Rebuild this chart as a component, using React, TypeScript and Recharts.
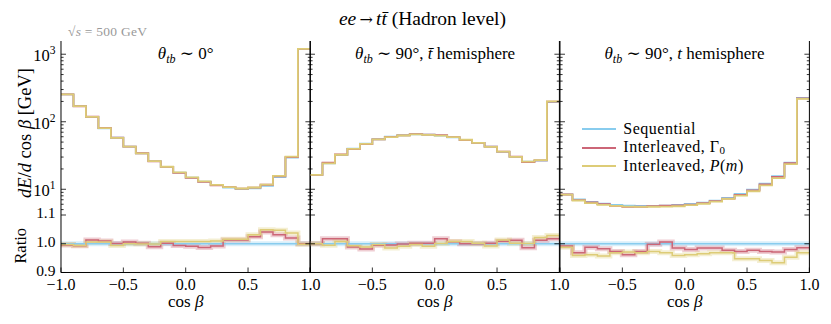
import React from 'react';
import { LineChart, Line, XAxis, YAxis, Legend } from 'recharts';

// ---------------- data ----------------
const binLeftEdges = [-1.0, -0.9, -0.8, -0.7, -0.6, -0.5, -0.4, -0.3, -0.2, -0.1, 0.0, 0.1, 0.2, 0.3, 0.4, 0.5, 0.6, 0.7, 0.8, 0.9];
const upperEdge = 1.0;

const seriesNames = ['Sequential', 'Interleaved, Γ0', 'Interleaved, P(m)'];

// Sequential dE/dcos(beta) [GeV]
const seqPanel1 = [255, 171, 117, 80, 58, 42.7, 34.1, 26.2, 21.4, 17.6, 14.9, 13.0, 11.5, 10.6, 10.1, 10.3, 11.2, 15.1, 29.4, 1200];
const seqPanel2 = [16.3, 24.3, 32.2, 39.9, 47.4, 55.1, 60.1, 63.1, 65.3, 64.5, 62.2, 58.9, 53.7, 48.5, 42.7, 35.7, 30.1, 25.6, 26.5, 195];
const seqPanel3 = [8.43, 7.11, 6.49, 6.12, 5.85, 5.71, 5.66, 5.66, 5.71, 5.85, 6.05, 6.33, 6.78, 7.43, 8.51, 9.87, 12.1, 15.7, 24.8, 225];

// Ratio to Sequential
const ratioG0Panel1 = [0.996, 0.993, 1.013, 1.010, 1.001, 1.006, 1.002, 0.990, 1.002, 0.994, 0.991, 0.987, 0.992, 1.013, 1.013, 1.024, 1.041, 1.031, 1.020, 1.000];
const ratioPmPanel1 = [0.997, 0.994, 1.006, 1.006, 0.994, 1.000, 0.999, 0.999, 1.008, 1.008, 1.008, 1.008, 1.010, 1.016, 1.016, 1.031, 1.049, 1.047, 1.037, 0.998];
const ratioG0Panel2 = [1.000, 1.017, 1.017, 0.989, 0.982, 0.995, 0.996, 0.999, 1.002, 1.002, 1.017, 1.007, 1.000, 1.000, 1.002, 1.009, 1.012, 0.986, 1.012, 1.017];
const ratioPmPanel2 = [1.000, 0.995, 1.008, 0.993, 0.989, 0.997, 0.985, 0.991, 0.997, 0.991, 1.001, 1.008, 1.008, 1.002, 0.992, 1.013, 1.002, 1.001, 1.022, 1.029];
const ratioG0Panel3 = [0.992, 0.969, 0.988, 0.983, 0.973, 0.962, 0.973, 0.998, 1.006, 0.985, 0.980, 0.985, 0.985, 0.977, 0.973, 0.977, 0.973, 0.971, 0.980, 0.986];
const ratioPmPanel3 = [0.988, 0.959, 0.962, 0.957, 0.969, 0.971, 0.969, 0.973, 0.969, 0.959, 0.962, 0.965, 0.969, 0.969, 0.948, 0.948, 0.942, 0.934, 0.953, 0.969];

const xTicks = [-1.0, -0.5, 0.0, 0.5, 1.0];
const xInnerTicks = [-0.5, 0.0, 0.5];
const logTicks = [5, 6, 7, 8, 9, 10, 20, 30, 40, 50, 60, 70, 80, 90, 100, 200, 300, 400, 500, 600, 700, 800, 900, 1000];
const ratioTicks = [0.9, 1.0, 1.1];
const logDomain = [4.16, 1570];
const ratioDomain = [0.9, 1.1];

// ---------------- styling ----------------
const FONT = "'Liberation Serif', 'DejaVu Serif', serif";
const COLORS = ['#88CCEE', '#CC6677', '#DDCC77'];
const KEYS = ['seq', 'g0', 'pm'];
const PW = 249.4;
const PANEL_LEFT = [61, 61 + PW, 61 + 2 * PW];
const TOP_Y0 = 41;
const TOP_Y1 = 215;
const RAT_Y1 = 272.5;
const FS = 16.5;

function buildHist(seq: number[], rg: number[], rp: number[]) {
  const rows: any[] = [];
  for (let i = 0; i <= binLeftEdges.length; i++) {
    const j = Math.min(i, binLeftEdges.length - 1);
    const x = i < binLeftEdges.length ? binLeftEdges[i] : upperEdge;
    rows.push({ x, seq: seq[j], g0: seq[j] * rg[j], pm: seq[j] * rp[j] });
  }
  return rows;
}
function buildRatio(rg: number[], rp: number[]) {
  const rows: any[] = [];
  for (let i = 0; i <= binLeftEdges.length; i++) {
    const j = Math.min(i, binLeftEdges.length - 1);
    const x = i < binLeftEdges.length ? binLeftEdges[i] : upperEdge;
    rows.push({ x, seq: 1.0, g0: rg[j], pm: rp[j] });
  }
  return rows;
}

const panels = [
  { hist: buildHist(seqPanel1, ratioG0Panel1, ratioPmPanel1), ratio: buildRatio(ratioG0Panel1, ratioPmPanel1) },
  { hist: buildHist(seqPanel2, ratioG0Panel2, ratioPmPanel2), ratio: buildRatio(ratioG0Panel2, ratioPmPanel2) },
  { hist: buildHist(seqPanel3, ratioG0Panel3, ratioPmPanel3), ratio: buildRatio(ratioG0Panel3, ratioPmPanel3) },
];

// ---------------- tick components ----------------
const LogTick = (props: any) => {
  const { x, y, payload, side, showLabel } = props;
  const v = payload.value;
  const lg = Math.log10(v);
  const e = Math.round(lg);
  const major = Math.abs(lg - e) < 1e-6;
  const len = major ? 5 : 2.6;
  const dir = side === 'left' ? 1 : -1;
  return (
    <g>
      <line x1={x} x2={x + dir * len} y1={y} y2={y} stroke="#000" strokeWidth={0.8} />
      {showLabel && major && (
        <text x={x - 5.5} y={y + 7} textAnchor="end" fontFamily={FONT} fontSize={FS} fill="#000">
          10<tspan dy={-7} fontSize={11.5}>{e}</tspan>
        </text>
      )}
    </g>
  );
};

const RatioTick = (props: any) => {
  const { x, y, payload, side, showLabel } = props;
  const dir = side === 'left' ? 1 : -1;
  return (
    <g>
      <line x1={x} x2={x + dir * 5} y1={y} y2={y} stroke="#000" strokeWidth={0.8} />
      {showLabel && (
        <text x={x - 5.5} y={y + 3.5} textAnchor="end" fontFamily={FONT} fontSize={15.5} fill="#000">
          {payload.value.toFixed(1)}
        </text>
      )}
    </g>
  );
};

const XTick = (props: any) => {
  const { x, y, payload, showLabel, hideFirst } = props;
  const v = payload.value;
  const label = (v < 0 ? '\u2212' : '') + Math.abs(v).toFixed(1);
  const show = showLabel && !(hideFirst && v <= -1);
  return (
    <g>
      <line x1={x} x2={x} y1={y} y2={y - 5} stroke="#000" strokeWidth={0.8} />
      {show && (
        <text x={x} y={y + 17.5} textAnchor="middle" fontFamily={FONT} fontSize={16} fill="#000">
          {label}
        </text>
      )}
    </g>
  );
};

// ---------------- label components ----------------
const YLabelTop = (props: any) => {
  const { viewBox } = props;
  const cx = viewBox.x + 25;
  const cy = viewBox.y + viewBox.height / 2 + 5;
  return (
    <text x={cx} y={cy} transform={`rotate(-90 ${cx} ${cy})`} textAnchor="middle" dominantBaseline="central" fontFamily={FONT} fontSize={18.5} fill="#000">
      <tspan fontStyle="italic">dE</tspan>/<tspan fontStyle="italic">d</tspan> cos <tspan fontStyle="italic">β</tspan> [GeV]
    </text>
  );
};

const YLabelRatio = (props: any) => {
  const { viewBox } = props;
  const cx = viewBox.x + 21;
  const cy = viewBox.y + viewBox.height / 2 + 2;
  return (
    <text x={cx} y={cy} transform={`rotate(-90 ${cx} ${cy})`} textAnchor="middle" dominantBaseline="central" fontFamily={FONT} fontSize={16.5} fill="#000">
      Ratio
    </text>
  );
};

const XLabel = (props: any) => {
  const { viewBox } = props;
  const cx = viewBox.x + viewBox.width / 2;
  return (
    <text x={cx} y={viewBox.y + 35} textAnchor="middle" fontFamily={FONT} fontSize={17} fill="#000">
      cos <tspan fontStyle="italic">β</tspan>
    </text>
  );
};

const legendLabel = (name: string) => {
  if (name === seriesNames[1]) return (<span>Interleaved, Γ<span style={{ fontSize: 11, position: 'relative', top: 2 }}>0</span></span>);
  if (name === seriesNames[2]) return (<span>Interleaved, <i>P</i>(<i>m</i>)</span>);
  return <span>{name}</span>;
};

const LegendBox = (props: any) => {
  const items = [...(props.payload || [])].sort((a: any, b: any) => seriesNames.indexOf(a.value) - seriesNames.indexOf(b.value));
  return (
    <div style={{ fontFamily: FONT, fontSize: 16, letterSpacing: 0.5, color: '#000', lineHeight: '18.4px' }}>
      {items.map((p: any) => (
        <div key={p.value} style={{ display: 'flex', alignItems: 'center', height: 18.4, whiteSpace: 'nowrap' }}>
          <svg width={34} height={4} style={{ marginRight: 7.5 }}>
            <line x1={0} x2={34} y1={2} y2={2} stroke={p.color} strokeWidth={1.8} />
          </svg>
          {legendLabel(p.value)}
        </div>
      ))}
    </div>
  );
};

// ---------------- panels ----------------
function TopPanel({ idx }: { idx: number }) {
  const yW = idx === 0 ? 61 : 2;
  const left = PANEL_LEFT[idx] - yW;
  const width = yW + PW + 2;
  return (
    <div style={{ position: 'absolute', left, top: 0 }}>
      <LineChart width={width} height={TOP_Y1 + 2} data={panels[idx].hist} margin={{ top: TOP_Y0, right: 0, bottom: 2, left: 0 }}>
        <XAxis xAxisId="b" dataKey="x" type="number" domain={[-1, 1]} allowDataOverflow ticks={xInnerTicks} interval={0}
          height={0} tickSize={0} tickMargin={0} tickLine={false} axisLine={{ stroke: '#000', strokeWidth: 1 }} tick={<XTick showLabel={false} />} />
        <XAxis xAxisId="t" orientation="top" dataKey="x" type="number" domain={[-1, 1]} allowDataOverflow height={0}
          tick={false} tickLine={false} axisLine={{ stroke: '#000', strokeWidth: 1 }} />
        <YAxis yAxisId="l" scale="log" type="number" domain={logDomain} allowDataOverflow ticks={logTicks} interval={0}
          width={yW} tickSize={0} tickMargin={0} tickLine={false} axisLine={{ stroke: '#000', strokeWidth: 1 }}
          tick={<LogTick side="left" showLabel={idx === 0} />} label={idx === 0 ? <YLabelTop /> : undefined} />
        <YAxis yAxisId="r" orientation="right" scale="log" type="number" domain={logDomain} allowDataOverflow ticks={logTicks} interval={0}
          width={2} tickSize={0} tickMargin={0} tickLine={false} axisLine={{ stroke: '#000', strokeWidth: 1 }}
          tick={<LogTick side="right" showLabel={false} />} />
        {KEYS.map((k, i) => (
          <Line key={k} xAxisId="b" yAxisId="l" type="stepAfter" dataKey={k} name={seriesNames[i]} stroke={COLORS[i]}
            strokeWidth={1.8} dot={false} activeDot={false} isAnimationActive={false} />
        ))}
        {idx === 2 && (
          <Legend layout="vertical" align="center" verticalAlign="middle" content={<LegendBox />}
            wrapperStyle={{ position: 'absolute', left: 24, top: 120.3, width: 'auto', height: 'auto' }} />
        )}
      </LineChart>
    </div>
  );
}

function RatioPanel({ idx }: { idx: number }) {
  const yW = idx === 0 ? 61 : 2;
  const left = PANEL_LEFT[idx] - yW;
  const width = yW + PW + 22;
  const chartTop = 200;
  return (
    <div style={{ position: 'absolute', left, top: chartTop }}>
      <LineChart width={width} height={324 - chartTop} data={panels[idx].ratio}
        margin={{ top: TOP_Y1 - chartTop, right: 20, bottom: 0, left: 0 }}>
        <XAxis xAxisId="b" dataKey="x" type="number" domain={[-1, 1]} allowDataOverflow ticks={xTicks} interval={0}
          height={324 - RAT_Y1} tickSize={0} tickMargin={0} tickLine={false} axisLine={{ stroke: '#000', strokeWidth: 1 }}
          tick={<XTick showLabel hideFirst={idx > 0} />} label={<XLabel />} />
        <XAxis xAxisId="t" orientation="top" dataKey="x" type="number" domain={[-1, 1]} allowDataOverflow height={0}
          tick={false} tickLine={false} axisLine={{ stroke: '#000', strokeWidth: 1 }} />
        <YAxis yAxisId="l" type="number" domain={ratioDomain} allowDataOverflow ticks={ratioTicks} interval={0}
          width={yW} tickSize={0} tickMargin={0} tickLine={false} axisLine={{ stroke: '#000', strokeWidth: 1 }}
          tick={<RatioTick side="left" showLabel={idx === 0} />} label={idx === 0 ? <YLabelRatio /> : undefined} />
        <YAxis yAxisId="r" orientation="right" type="number" domain={ratioDomain} allowDataOverflow ticks={ratioTicks} interval={0}
          width={2} tickSize={0} tickMargin={0} tickLine={false} axisLine={{ stroke: '#000', strokeWidth: 1 }}
          tick={<RatioTick side="right" showLabel={false} />} />
        {KEYS.map((k, i) => (
          <Line key={k + 'band'} xAxisId="b" yAxisId="l" type="stepAfter" dataKey={k} stroke={COLORS[i]} strokeOpacity={0.32}
            strokeWidth={5} dot={false} activeDot={false} isAnimationActive={false} legendType="none" />
        ))}
        {KEYS.map((k, i) => (
          <Line key={k} xAxisId="b" yAxisId="l" type="stepAfter" dataKey={k} stroke={COLORS[i]}
            strokeWidth={1.5} dot={false} activeDot={false} isAnimationActive={false} />
        ))}
      </LineChart>
    </div>
  );
}

const panelCenters = PANEL_LEFT.map((l) => l + PW / 2);

function TextOverlay() {
  return (
    <svg width={831} height={324} style={{ position: 'absolute', left: 0, top: 0, pointerEvents: 'none' }}>
      <text x={422.5} y={25} textAnchor="middle" fontFamily={FONT} fontSize={19.5} fill="#000">
        <tspan fontStyle="italic">ee</tspan>
        <tspan fontFamily="'DejaVu Serif', serif" fontSize={16}>{'\u2009\u2192\u2009'}</tspan>
        <tspan fontStyle="italic">tt̄</tspan>
        <tspan>{' (Hadron level)'}</tspan>
      </text>
      <text x={68} y={35.5} fontFamily={FONT} fontSize={13.5} fill="#999" textLength={79} lengthAdjust="spacing">
        √<tspan fontStyle="italic">s</tspan> = 500 GeV
      </text>
      {panelCenters.map((cx, i) => (
        <text key={i} x={cx} y={58.5} textAnchor="middle" fontFamily={FONT} fontSize={17} fill="#000">
          <tspan fontStyle="italic">θ</tspan>
          <tspan fontStyle="italic" fontSize={12} dy={4}>tb</tspan>
          <tspan dy={-4}>{' \u223C '}</tspan>
          {i === 0 && <tspan>0°</tspan>}
          {i === 1 && <tspan>90°, <tspan fontStyle="italic">t̄</tspan> hemisphere</tspan>}
          {i === 2 && <tspan>90°, <tspan fontStyle="italic">t</tspan> hemisphere</tspan>}
        </text>
      ))}
    </svg>
  );
}

export default function App() {
  return (
    <div style={{ position: 'absolute', left: 0, top: 0, width: 831, height: 324, background: '#fff', fontFamily: FONT }}>
      {[0, 1, 2].map((i) => <TopPanel key={'t' + i} idx={i} />)}
      {[0, 1, 2].map((i) => <RatioPanel key={'r' + i} idx={i} />)}
      <TextOverlay />
    </div>
  );
}
